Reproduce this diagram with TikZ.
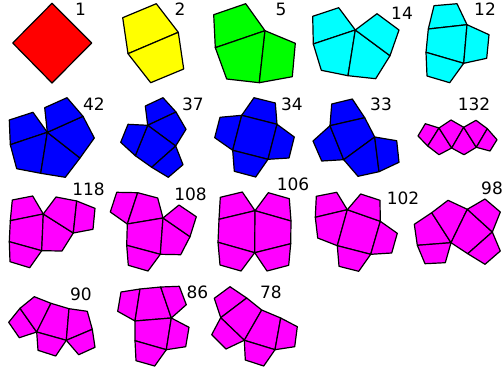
\documentclass[tikz,border=0pt]{standalone}
\usepackage{fontspec}
\setmainfont{DejaVu Sans}
\definecolor{cred}{RGB}{255,0,0}
\definecolor{cyel}{RGB}{255,255,0}
\definecolor{cgre}{RGB}{0,255,0}
\definecolor{ccya}{RGB}{0,255,255}
\definecolor{cblu}{RGB}{0,0,255}
\definecolor{cmag}{RGB}{255,0,255}
\tikzset{
  face/.style={draw=black,line width=1.2pt,line join=round},
  fred/.style={face,fill=cred},
  fyel/.style={face,fill=cyel},
  fgre/.style={face,fill=cgre},
  fcya/.style={face,fill=ccya},
  fblu/.style={face,fill=cblu},
  fmag/.style={face,fill=cmag},
  numlabel/.style={inner sep=0pt,outer sep=0pt,text=black,font=\fontsize{17}{17}\selectfont}
}
\newcommand{\pface}[2]{\path[#1] plot coordinates {#2} -- cycle;}
\begin{document}
\begin{tikzpicture}[x=1pt,y=-1pt]
\useasboundingbox (0,0) rectangle (503,373);
\clip (0,0) rectangle (503,373);
% 1
\pface{fred}{(52,3.3)(91.7,43)(52,83)(12.7,43)}
% 2
\pface{fyel}{(122.7,17.7)(156.3,3.7)(178.3,32.3)(128,53.7)}
\pface{fyel}{(128,53.7)(178.3,32.3)(183.7,69)(150.7,82.7)}
% 5
\pface{fgre}{(213.7,14.7)(245.7,3.7)(265,30.7)(215.3,47.7)}
\pface{fgre}{(215.3,47.7)(265,30.7)(259.3,82.7)(226.7,79)}
\pface{fgre}{(265,30.7)(295.3,43.3)(292.3,76.7)(259.3,82.7)}
% 14
\pface{fcya}{(312.7,16.3)(338.7,7.7)(355.3,30)(313.3,44)}
\pface{fcya}{(313.3,44)(355.3,30)(348,75.7)(321.3,70.3)}
\pface{fcya}{(355.3,30)(390,55.7)(375.7,78.7)(348,75.7)}
\pface{fcya}{(355.3,30)(377,13.7)(399,30)(390,55.7)}
% 12
\pface{fcya}{(434,5.7)(457,3.7)(467,24.7)(428.3,29)}
\pface{fcya}{(428.3,29)(467,24.7)(463.7,63.3)(426,52.3)}
\pface{fcya}{(467,24.7)(489,34.7)(486.7,58.3)(463.7,63.3)}
\pface{fcya}{(426,52.3)(463.7,63.3)(449.7,82.7)(427,76)}
% 42
\pface{fblu}{(9.3,120)(33,112.3)(47.3,132.3)(10.3,144.7)}
\pface{fblu}{(10.3,144.7)(47.3,132.3)(40.7,173.3)(16.7,168.7)}
\pface{fblu}{(47.3,132.3)(80,158)(65.3,177.3)(40.7,173.3)}
\pface{fblu}{(47.3,132.3)(83,116.3)(94.3,138)(80,158)}
\pface{fblu}{(44.7,107.7)(67,97.7)(83,116.3)(47.3,132.3)}
% 37
\pface{fblu}{(145.3,106)(163,97.7)(176,112)(147.7,125.3)}
\pface{fblu}{(147.7,125.3)(176,112)(186,129.3)(175.7,146)}
\pface{fblu}{(147.7,125.3)(175.7,146)(151.7,167.3)(135.3,155.7)}
\pface{fblu}{(128,124.3)(147.7,125.3)(135.3,155.7)(120.7,142.3)}
\pface{fblu}{(175.7,146)(183,164.7)(168.3,177.3)(151.7,167.3)}
% 34
\pface{fblu}{(254,97.7)(275.3,103)(277,124.3)(241.7,115.3)}
\pface{fblu}{(220,117.3)(241.7,115.3)(232.7,150.3)(214.7,137.7)}
\pface{fblu}{(241.7,115.3)(277,124.3)(268,159.3)(232.7,150.3)}
\pface{fblu}{(277,124.3)(294.3,137)(289,158)(268,159.3)}
\pface{fblu}{(232.7,150.3)(268,159.3)(255.7,177)(234.3,171.3)}
% 33
\pface{fblu}{(331.7,104)(352.3,99)(364.7,117.7)(330,125.7)}
\pface{fblu}{(330,125.7)(343.7,159.7)(321.7,161)(313,141)}
\pface{fblu}{(330,125.7)(364.7,117.7)(374.7,137)(343.7,159.7)}
\pface{fblu}{(343.7,159.7)(374.7,137)(379,171.7)(358,176.3)}
\pface{fblu}{(374.7,137)(396.7,140.7)(399,162.3)(379,171.7)}
% 132
\pface{fmag}{(425.3,123.7)(439,128)(427.7,146)(418,136)}
\pface{fmag}{(439,128)(451.7,148)(439,154.7)(427.7,146)}
\pface{fmag}{(439,128)(451,120)(463.7,127.3)(451.7,148)}
\pface{fmag}{(463.7,127.3)(476.3,147.3)(464,154.7)(451.7,148)}
\pface{fmag}{(463.7,127.3)(476,120.3)(487.3,128.7)(476.3,147.3)}
\pface{fmag}{(487.3,128.7)(497,139.7)(490,151)(476.3,147.3)}
% 118
\pface{fmag}{(12.3,200)(32.7,196)(43.3,214)(10.3,220.7)}
\pface{fmag}{(10.3,220.7)(43.3,214)(41.7,250.7)(9.3,241.7)}
\pface{fmag}{(9.3,241.7)(41.7,250.7)(29.7,267.7)(10,261.7)}
\pface{fmag}{(43.3,214)(73.3,233)(62,251)(41.7,250.7)}
\pface{fmag}{(43.3,214)(56,197)(76.7,201)(73.3,233)}
\pface{fmag}{(76.7,201)(95,208.3)(93,229.3)(73.3,233)}
% 108
\pface{fmag}{(116.7,192.3)(137.7,192.7)(127.3,224)(110.3,212)}
\pface{fmag}{(137.7,192.7)(157.7,198)(163,218)(127.3,224)}
\pface{fmag}{(127.3,224)(163,218)(160.3,254.3)(126.7,245.3)}
\pface{fmag}{(126.7,245.3)(160.3,254.3)(148,271)(128.3,265.3)}
\pface{fmag}{(163,218)(190,236.7)(180.7,254.7)(160.3,254.3)}
\pface{fmag}{(163,218)(179,205)(196.3,216.7)(190,236.7)}
% 106
\pface{fmag}{(220.3,197.3)(242.3,192)(255,210.7)(219,219.3)}
\pface{fmag}{(219,219.3)(255,210.7)(254.7,252.7)(218,242.3)}
\pface{fmag}{(218,242.3)(254.7,252.7)(241,271)(220,265)}
\pface{fmag}{(255,210.7)(268.3,192.7)(289.3,198.7)(291,221)}
\pface{fmag}{(255,210.7)(291,221)(290.7,243.7)(254.7,252.7)}
\pface{fmag}{(254.7,252.7)(290.7,243.7)(288.7,265.3)(267,271)}
% 102
\pface{fmag}{(316.3,196.3)(336.7,192.3)(347.3,209.7)(315.3,217.3)}
\pface{fmag}{(315.3,217.3)(347.3,209.7)(337.3,245.7)(317.7,238)}
\pface{fmag}{(347.3,209.7)(380.3,221.3)(370.7,254.3)(337.3,245.7)}
\pface{fmag}{(347.3,209.7)(360.7,194)(380,200.3)(380.3,221.3)}
\pface{fmag}{(380.3,221.3)(397.3,233.3)(391.7,253)(370.7,254.3)}
\pface{fmag}{(337.3,245.7)(370.7,254.3)(358.7,271.3)(339,266.3)}
% 98
\pface{fmag}{(414.3,224.3)(431.7,212.7)(451,242.7)(417.3,245.3)}
\pface{fmag}{(431.7,212.7)(448,200.3)(467.3,209.3)(451,242.7)}
\pface{fmag}{(417.3,245.3)(451,242.7)(445.3,262.7)(425,263.7)}
\pface{fmag}{(467.3,209.3)(492.3,232)(467.7,253.7)(451,242.7)}
\pface{fmag}{(467.3,209.3)(485,199)(500.3,212)(492.3,232)}
\pface{fmag}{(492.3,232)(500.3,251)(485,264.3)(467.7,253.7)}
% 90
\pface{fmag}{(20,308.3)(36.7,332)(19.3,337.7)(8.7,322.3)}
\pface{fmag}{(20,308.3)(34.3,296.7)(51,303.3)(36.7,332)}
\pface{fmag}{(51,303.3)(69,308.7)(66.3,340.3)(36.7,332)}
\pface{fmag}{(69,308.7)(87.3,311.3)(92.3,329.3)(66.3,340.3)}
\pface{fmag}{(66.3,340.3)(92.3,329.3)(95,347.3)(78.7,354.7)}
\pface{fmag}{(36.7,332)(66.3,340.3)(55.7,356)(38,350.3)}
% 86
\pface{fmag}{(121,292)(140,289)(135,321)(117.7,311.3)}
\pface{fmag}{(140,289)(160.7,287)(171.3,318)(135,321)}
\pface{fmag}{(160.7,287)(179.3,286.3)(186.3,304.7)(171.3,318)}
\pface{fmag}{(135,321)(171.3,318)(166.3,349.7)(135,340.7)}
\pface{fmag}{(171.3,318)(189,327.3)(185.7,346.7)(166.3,349.7)}
\pface{fmag}{(135,340.7)(166.3,349.7)(154.7,366)(136,360.7)}
% 78
\pface{fmag}{(214.3,298.3)(230,286.7)(246.7,298)(220.7,317.7)}
\pface{fmag}{(220.7,317.7)(246.7,298)(261.7,310)(244.3,340.3)}
\pface{fmag}{(261.7,310)(280.7,318)(275,349.7)(244.3,340.3)}
\pface{fmag}{(280.7,318)(297.3,326.7)(294.7,346.7)(275,349.7)}
\pface{fmag}{(220.7,317.7)(244.3,340.3)(226,349)(211.7,334.7)}
\pface{fmag}{(244.3,340.3)(275,349.7)(263.7,366)(245.3,360)}
% labels
\node[numlabel] (n1) at (80.5,9) {1};
\node[numlabel] (n2) at (180,9) {2};
\node[numlabel] (n5) at (281,9) {5};
\node[numlabel] (n14) at (402,13) {14};
\node[numlabel] (n12) at (485,9) {12};
\node[numlabel] (n42) at (94,104) {42};
\node[numlabel] (n37) at (193,104) {37};
\node[numlabel] (n34) at (292,104) {34};
\node[numlabel] (n33) at (381,104) {33};
\node[numlabel] (n132) at (474,104) {132};
\node[numlabel] (n118) at (88.5,189) {118};
\node[numlabel] (n108) at (190.5,194) {108};
\node[numlabel] (n106) at (293,184) {106};
\node[numlabel] (n102) at (403,198) {102};
\node[numlabel] (n98) at (492,188) {98};
\node[numlabel] (n90) at (81,294) {90};
\node[numlabel] (n86) at (197.5,292) {86};
\node[numlabel] (n78) at (271,292) {78};
\end{tikzpicture}
\end{document}
